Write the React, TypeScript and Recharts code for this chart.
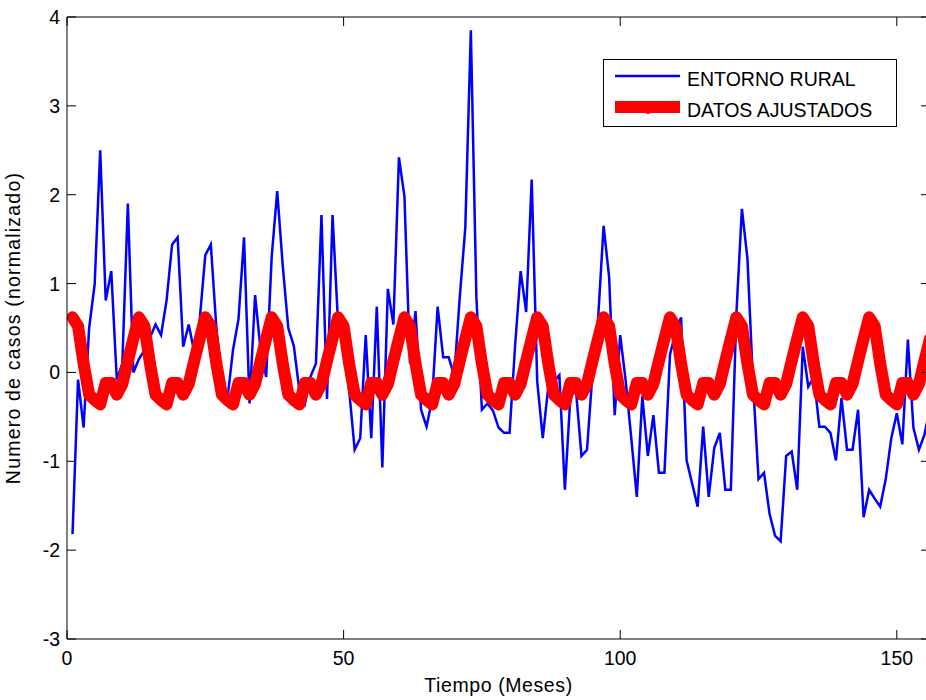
import { LineChart, Line, XAxis, YAxis, Legend } from 'recharts';

// months 1..156 (13 years)
const meses = Array.from({ length: 156 }, (_, i) => i + 1);

const entornoRural = [
  -1.82, -0.08, -0.62, 0.5, 0.99, 2.5, 0.81, 1.14, -0.08, 0.1, 1.9, 0.0,
  0.15, 0.25, 0.39, 0.54, 0.42, 0.81, 1.44, 1.52, 0.29, 0.54, 0.23, 0.6,
  1.32, 1.44, 0.5, -0.1, -0.3, 0.25, 0.6, 1.52, -0.35, 0.87, 0.25, -0.05,
  1.3, 2.04, 1.2, 0.5, 0.3, -0.2, -0.35, -0.05, 0.1, 1.77, -0.3, 1.77,
  0.55, 0.3, -0.2, -0.87, -0.74, 0.42, -0.74, 0.74, -1.07, 0.94, 0.54, 2.42,
  1.98, 0.1, 0.69, -0.42, -0.61, -0.3, 0.74, 0.17, 0.17, -0.04, 0.85, 1.63,
  3.85, 0.85, -0.42, -0.35, -0.43, -0.62, -0.68, -0.68, 0.3, 1.14, 0.68, 2.17,
  -0.1, -0.74, -0.16, -0.1, -0.03, -1.32, -0.27, -0.2, -0.94, -0.87, 0.0, 0.6,
  1.65, 1.07, -0.48, 0.42, -0.1, -0.74, -1.4, -0.27, -0.94, -0.48, -1.13, -1.13,
  0.2, 0.45, 0.62, -0.99, -1.25, -1.51, -0.61, -1.4, -0.85, -0.68, -1.32, -1.32,
  0.66, 1.84, 1.28, -0.1, -1.2, -1.13, -1.59, -1.84, -1.9, -0.94, -0.89, -1.32,
  0.29, -0.16, -0.05, -0.61, -0.61, -0.68, -0.99, -0.29, -0.87, -0.87, -0.42, -1.63,
  -1.32, -1.42, -1.51, -1.2, -0.74, -0.46, -0.81, 0.37, -0.62, -0.87, -0.7, -0.4,
];

const datosAjustados = [
  0.62, 0.52, 0.1, -0.25, -0.31, -0.36, -0.12, -0.12, -0.25, -0.13, 0.13, 0.38,
  0.62, 0.52, 0.1, -0.25, -0.31, -0.36, -0.12, -0.12, -0.25, -0.13, 0.13, 0.38,
  0.62, 0.52, 0.1, -0.25, -0.31, -0.36, -0.12, -0.12, -0.25, -0.13, 0.13, 0.38,
  0.62, 0.52, 0.1, -0.25, -0.31, -0.36, -0.12, -0.12, -0.25, -0.13, 0.13, 0.38,
  0.62, 0.52, 0.1, -0.25, -0.31, -0.36, -0.12, -0.12, -0.25, -0.13, 0.13, 0.38,
  0.62, 0.52, 0.1, -0.25, -0.31, -0.36, -0.12, -0.12, -0.25, -0.13, 0.13, 0.38,
  0.62, 0.52, 0.1, -0.25, -0.31, -0.36, -0.12, -0.12, -0.25, -0.13, 0.13, 0.38,
  0.62, 0.52, 0.1, -0.25, -0.31, -0.36, -0.12, -0.12, -0.25, -0.13, 0.13, 0.38,
  0.62, 0.52, 0.1, -0.25, -0.31, -0.36, -0.12, -0.12, -0.25, -0.13, 0.13, 0.38,
  0.62, 0.52, 0.1, -0.25, -0.31, -0.36, -0.12, -0.12, -0.25, -0.13, 0.13, 0.38,
  0.62, 0.52, 0.1, -0.25, -0.31, -0.36, -0.12, -0.12, -0.25, -0.13, 0.13, 0.38,
  0.62, 0.52, 0.1, -0.25, -0.31, -0.36, -0.12, -0.12, -0.25, -0.13, 0.13, 0.38,
  0.62, 0.52, 0.1, -0.25, -0.31, -0.36, -0.12, -0.12, -0.25, -0.13, 0.13, 0.38,
];

const seriesNames = ['ENTORNO RURAL', 'DATOS AJUSTADOS'];
const xTicks = [0, 50, 100, 150];
const yTicks = [-3, -2, -1, 0, 1, 2, 3, 4];

const data = meses.map((mes, i) => ({
  mes,
  rural: entornoRural[i],
  ajuste: datosAjustados[i],
}));

const FONT = 19.5;
const TICK = 9;

const LeftTick = ({ x, y, payload }: any) => (
  <g>
    <line x1={x + 7} x2={x + 7 + TICK} y1={y} y2={y} stroke="#000" />
    <text x={x} y={y} dy={7} textAnchor="end" fontSize={FONT} fill="#000">
      {payload.value}
    </text>
  </g>
);

const RightTick = ({ x, y }: any) => (
  <line x1={x - TICK} x2={x} y1={y} y2={y} stroke="#000" />
);

const BottomTick = ({ x, y, payload }: any) => (
  <g>
    <line x1={x} x2={x} y1={y - TICK} y2={y} stroke="#000" />
    <text x={x} y={y + 26} textAnchor="middle" fontSize={FONT} fill="#000">
      {payload.value}
    </text>
  </g>
);

const TopTick = ({ x, y }: any) => (
  <line x1={x} x2={x} y1={y} y2={y + TICK} stroke="#000" />
);

const renderLegend = (props: any) => {
  const items = (props.payload || [])
    .filter((it: any) => seriesNames.includes(it.value))
    .sort((a: any, b: any) => seriesNames.indexOf(a.value) - seriesNames.indexOf(b.value));
  return (
    <svg width={294} height={68} style={{ display: 'block' }}>
      <rect x={0.5} y={0.5} width={293} height={67} fill="#fff" stroke="#000" />
      {items.map((it: any, i: number) => {
        const cy = i === 0 ? 17 : 48;
        const thick = i === 0 ? 2.5 : 12;
        return (
          <g key={it.value}>
            <line x1={12} x2={77} y1={cy} y2={cy} stroke={it.color} strokeWidth={thick} />
            {i === 1 && <circle cx={45} cy={cy + 2} r={5} fill={it.color} />}
            <text x={84} y={cy + 10} fontSize={FONT} fill="#000">
              {it.value}
            </text>
          </g>
        );
      })}
    </svg>
  );
};

export default function App() {
  return (
    <div
      style={{
        position: 'absolute',
        left: 0,
        top: 0,
        width: 926,
        height: 700,
        overflow: 'hidden',
        background: '#fff',
        fontFamily: '"Liberation Sans", Arial, sans-serif',
      }}
    >
      <LineChart
        width={940}
        height={700}
        data={data}
        margin={{ top: 16, right: 9, bottom: 0, left: 0 }}
      >
        <XAxis
          dataKey="mes"
          type="number"
          domain={[0, 156]}
          ticks={xTicks}
          allowDataOverflow
          height={61}
          tickSize={0}
          tickMargin={0}
          tickLine={false}
          axisLine={{ stroke: '#000' }}
          tick={<BottomTick />}
          label={{
            value: 'Tiempo (Meses)',
            position: 'insideBottom',
            offset: 8,
            fontSize: FONT,
            fill: '#000',
            letterSpacing: 0.6,
          }}
        />
        <XAxis
          xAxisId="top"
          dataKey="mes"
          orientation="top"
          type="number"
          domain={[0, 156]}
          ticks={xTicks}
          allowDataOverflow
          height={1}
          tickSize={0}
          tickMargin={0}
          tickLine={false}
          axisLine={{ stroke: '#000' }}
          tick={<TopTick />}
        />
        <YAxis
          type="number"
          domain={[-3, 4]}
          ticks={yTicks}
          allowDataOverflow
          width={67}
          tickSize={0}
          tickMargin={7}
          tickLine={false}
          axisLine={{ stroke: '#000' }}
          tick={<LeftTick />}
          label={{
            value: 'Numero de casos (normalizado)',
            angle: -90,
            position: 'insideLeft',
            offset: 13,
            style: { textAnchor: 'middle' },
            fontSize: FONT,
            fill: '#000',
            letterSpacing: 1.2,
          }}
        />
        <YAxis
          yAxisId="right"
          orientation="right"
          type="number"
          domain={[-3, 4]}
          ticks={yTicks}
          allowDataOverflow
          width={1}
          tickSize={0}
          tickMargin={0}
          tickLine={false}
          axisLine={{ stroke: '#000' }}
          tick={<RightTick />}
        />
        <Legend
          layout="vertical"
          align="center"
          verticalAlign="middle"
          content={renderLegend}
          wrapperStyle={{ left: 603, top: 59, width: 294, height: 68 }}
        />
        {/* invisible copy so the box axes (top / right) are bound to a series */}
        <Line
          xAxisId="top"
          yAxisId="right"
          dataKey="rural"
          stroke="none"
          dot={false}
          activeDot={false}
          legendType="none"
          isAnimationActive={false}
        />
        <Line
          name="ENTORNO RURAL"
          dataKey="rural"
          stroke="#0000ff"
          strokeWidth={2.5}
          dot={false}
          isAnimationActive={false}
        />
        <Line
          name="DATOS AJUSTADOS"
          dataKey="ajuste"
          stroke="#ff0000"
          strokeWidth={12}
          strokeLinejoin="round"
          strokeLinecap="round"
          dot={false}
          isAnimationActive={false}
        />
      </LineChart>
    </div>
  );
}
